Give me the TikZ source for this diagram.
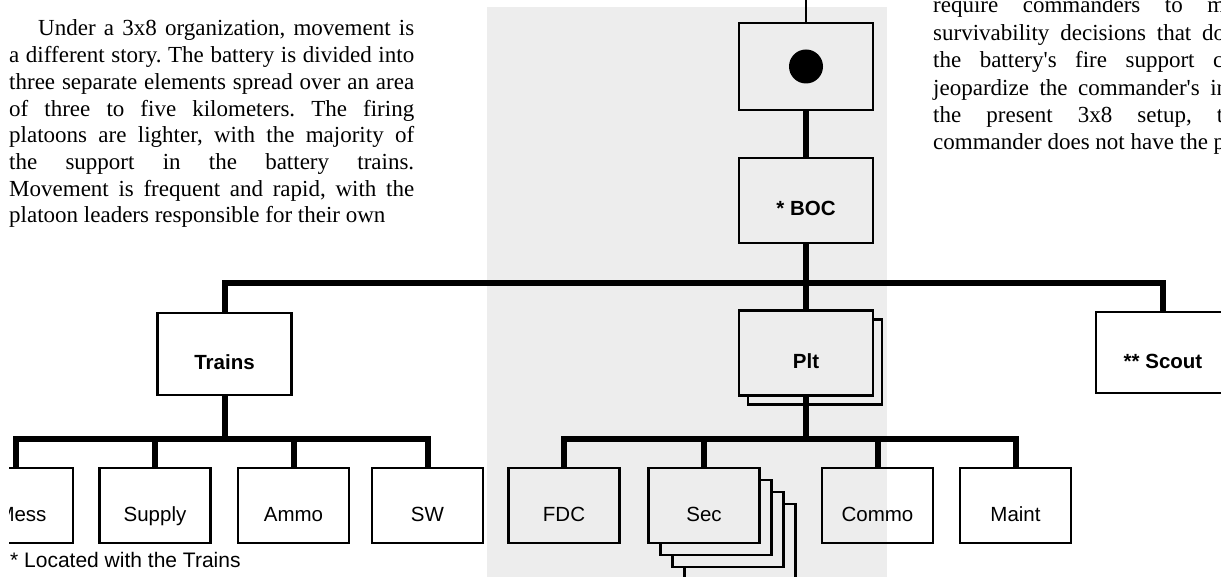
\documentclass[tikz,border=0pt]{standalone}
\usepackage{fontspec}
\setmainfont{Liberation Serif}[Ligatures=TeXOff]
\newfontfamily\chartfont{Liberation Sans}
\definecolor{panelgray}{gray}{0.93}

\begin{document}
\begin{tikzpicture}[
                x=1pt, y=-1pt,
                unitbox/.style={
                    draw=black,
                    line width=2.6pt,
                    rectangle,
                    inner sep=0pt,
                    minimum width=134pt,
                    minimum height=85pt,
                    text height=31pt,
                    text depth=0pt,
                    font=\chartfont\fontsize{20.5}{24}\selectfont\bfseries
                },
                secbox/.style={
                    unitbox,
                    minimum width=111pt,
                    minimum height=75pt,
                    font=\chartfont\fontsize{20.5}{24}\selectfont
                },
                stackbox/.style={
                    fill=panelgray
                },
                dot/.style={
                    circle,
                    fill=black,
                    inner sep=0pt,
                    minimum size=34pt
                },
                conn/.style={
                    line width=6pt
                },
                lead/.style={
                    line width=2pt
                },
                bodytext/.style={
                    inner sep=0pt,
                    anchor=base west,
                    font=\frenchspacing\fontsize{23}{26.7}\selectfont
                },
                note/.style={
                    inner sep=0pt,
                    anchor=base west,
                    font=\chartfont\fontsize{21}{24}\selectfont
                }
            ]

                \useasboundingbox (0,0) rectangle (1221,577);
                \clip (9,0) rectangle (1221,577);
                \fill[panelgray] (487,7) rectangle (887,577);

                \node[bodytext, text width=405pt, align=justify] (leftcol) at (9,36) {\parfillskip=0pt
                    \hspace*{29pt}Under a 3x8 organization, movement is\linebreak
                    a different story. The battery is divided into\linebreak
                    three separate elements spread over an area\linebreak
                    of three to five kilometers. The firing\linebreak
                    platoons are lighter, with the majority of\linebreak
                    the support in the battery trains.\linebreak
                    Movement is frequent and rapid, with the\linebreak
                    platoon leaders responsible for their own};
                \node[bodytext, align=left, font=\frenchspacing\fontsize{23}{27.4}\selectfont] (rightcol) at (933,150) {
                    \makebox[292pt][s]{require commanders to m}\\
                    \makebox[292pt][s]{survivability decisions that do}\\
                    \makebox[290pt][s]{the battery's fire support c}\\
                    \makebox[295pt][s]{jeopardize the commander's in}\\
                    \makebox[290pt][s]{the present 3x8 setup, t}\\
                    \makebox[292pt][s]{commander does not have the p}};

                \node[unitbox, minimum height=87pt] (btry) at (806,66.5) {};
                \node[dot] (btrydot) at (btry.center) {};
                \node[unitbox] (boc) at (806,200.5) {* BOC};
                \node[unitbox, stackbox] (pltback) at (815,362) {};
                \node[unitbox, stackbox] (plt) at (806,353) {Plt};
                \node[unitbox, minimum height=82pt] (trains) at (224.5,354) {Trains};
                \node[unitbox, minimum height=81pt] (scout) at (1163,352.5) {** Scout};

                \node[secbox, minimum width=102pt] (mess) at (22,505.5) {Mess};
                \node[secbox] (supply) at (155,505.5) {Supply};
                \node[secbox] (ammo) at (293.5,505.5) {Ammo};
                \node[secbox] (sw) at (427.5,505.5) {SW};
                \node[secbox] (fdc) at (564,505.5) {FDC};
                \foreach \k in {3,2,1}
                    \node[secbox, stackbox] (sec\k) at ({704+12*\k},{505.5+12*\k}) {};
                \node[secbox, stackbox] (sec) at (704,505.5) {Sec};
                \node[secbox] (commo) at (877.5,505.5) {Commo};
                \node[secbox] (maint) at (1015.5,505.5) {Maint};

                \node[note] (footnote) at (10,567) {* Located with the Trains};

                \coordinate (topend) at (806,0);
                \coordinate (bocbus) at (806,283);
                \coordinate (trainsbus) at (224.5,439);
                \coordinate (pltbus) at (806,439);

                \draw[lead] (btry.north) -- (topend);
                \draw[conn] (btry) -- (boc);
                \draw[conn] (boc) -- (plt);
                \draw[conn] (bocbus) -| (trains.north);
                \draw[conn] (bocbus) -| (scout.north);
                \draw[conn] (trains) -- (trainsbus);
                \draw[conn] (trainsbus) -| ([xshift=-6pt]mess.north);
                \foreach \unit in {supply,ammo,sw}
                    \draw[conn] (trainsbus) -| (\unit.north);
                \draw[conn] (plt) -- (pltbus);
                \foreach \unit in {fdc,sec,commo,maint}
                    \draw[conn] (pltbus) -| (\unit.north);
        \end{tikzpicture}
\end{document}
